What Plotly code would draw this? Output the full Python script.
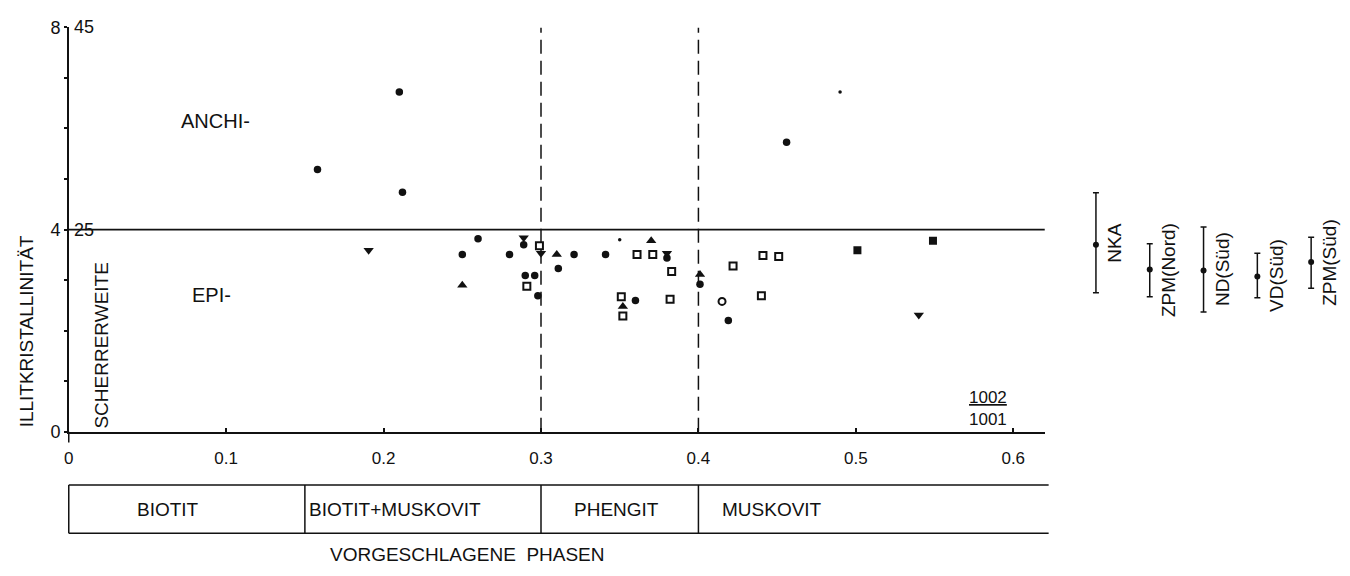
import plotly.graph_objects as go

# ---------------- data ----------------
# filled circles
dot_x = [0.210, 0.158, 0.212, 0.456, 0.260, 0.250, 0.280, 0.289, 0.321, 0.341,
         0.290, 0.296, 0.298, 0.311, 0.360, 0.380, 0.401, 0.419]
dot_y = [6.72, 5.19, 4.74, 5.73, 3.82, 3.51, 3.51, 3.70, 3.51, 3.51,
         3.09, 3.09, 2.69, 3.23, 2.60, 3.44, 2.92, 2.20]
# small dots
sdot_x = [0.490, 0.350]
sdot_y = [6.72, 3.80]
# filled triangles (down)
tdn_x = [0.1905, 0.289, 0.300, 0.380, 0.540]
tdn_y = [3.59, 3.84, 3.53, 3.53, 2.31]
# filled triangles (up)
tup_x = [0.250, 0.310, 0.352, 0.370, 0.401]
tup_y = [2.90, 3.51, 2.48, 3.78, 3.11]
# open squares
osq_x = [0.299, 0.291, 0.361, 0.351, 0.352, 0.371, 0.383, 0.382, 0.422, 0.441, 0.451, 0.440]
osq_y = [3.68, 2.88, 3.51, 2.67, 2.29, 3.51, 3.17, 2.62, 3.28, 3.49, 3.47, 2.69]
# open circle
ocir_x = [0.415]
ocir_y = [2.58]
# filled squares
fsq_x = [0.501, 0.549]
fsq_y = [3.59, 3.78]

# regional ranges (right-hand legend)
regions = ["NKA", "ZPM(Nord)", "ND(Süd)", "VD(Süd)", "ZPM(Süd)"]
reg_mean = [3.70, 3.21, 3.19, 3.07, 3.36]
reg_max = [4.73, 3.72, 4.05, 3.53, 3.85]
reg_min = [2.75, 2.67, 2.37, 2.65, 2.84]

# axis ticks
x_ticks = [0, 0.1, 0.2, 0.3, 0.4, 0.5, 0.6]
x_ticktext = ["0", "0.1", "0.2", "0.3", "0.4", "0.5", "0.6"]
y_ticks = [0, 1, 2, 3, 4, 5, 6, 7, 8]
y_ticktext = ["0", "", "", "", "4", "", "", "", "8"]

# zone boundary and phase boundaries
anchi_epi = 4
phase_bounds = [0.15, 0.3, 0.4]
phase_names = ["BIOTIT", "BIOTIT+MUSKOVIT", "PHENGIT", "MUSKOVIT"]
phase_label_x = [0.063, 0.207, 0.348, 0.414]
dashed_x = [0.3, 0.4]

# ---------------- figure ----------------
W, H = 1350, 576
FONT = "Liberation Sans, Arial, sans-serif"
BLACK = "#111111"


def px_x(p):
    return p / W


def px_y(p):
    return 1 - p / H


fig = go.Figure()


def add_sc(x, y, symbol, size, lw=0):
    fig.add_trace(go.Scatter(
        x=x, y=y, mode="markers", showlegend=False, hoverinfo="skip",
        marker=dict(symbol=symbol, size=size, color=BLACK,
                    line=dict(color=BLACK, width=lw)),
        xaxis="x", yaxis="y"))


add_sc(dot_x, dot_y, "circle", 7.5)
add_sc(sdot_x, sdot_y, "circle", 3.5)
add_sc(tdn_x, tdn_y, "triangle-down", 9)
add_sc(tup_x, tup_y, "triangle-up", 9)
add_sc(osq_x, osq_y, "square-open", 7, 2)
add_sc(ocir_x, ocir_y, "circle-open", 7, 2)
add_sc(fsq_x, fsq_y, "square", 8)

# right-hand range bars
reg_pos = [i + 0.5 for i in range(len(regions))]
fig.add_trace(go.Scatter(
    x=reg_pos, y=reg_mean, mode="markers", showlegend=False, hoverinfo="skip",
    marker=dict(symbol="circle", size=6, color=BLACK),
    error_y=dict(type="data", symmetric=False,
                 array=[mx - m for mx, m in zip(reg_max, reg_mean)],
                 arrayminus=[m - mn for m, mn in zip(reg_mean, reg_min)],
                 color=BLACK, thickness=1.5, width=3),
    xaxis="x2", yaxis="y"))

for i, name in enumerate(regions):
    fig.add_annotation(x=reg_pos[i], y=(reg_max[i] + reg_min[i]) / 2, xref="x2", yref="y",
                       text=name, showarrow=False, textangle=-90, xshift=19,
                       xanchor="center", yanchor="middle",
                       font=dict(family=FONT, size=19, color=BLACK))

x_end = 0.62
x_dom = [px_x(64), px_x(64 + x_end * 1580)]
y_dom = [px_y(437), px_y(18)]

fig.update_layout(
    width=W, height=H,
    margin=dict(l=0, r=0, t=0, b=0),
    paper_bgcolor="white", plot_bgcolor="white",
    font=dict(family=FONT, size=17, color=BLACK),
    xaxis=dict(domain=x_dom, range=[0, x_end], anchor="y",
               showgrid=False, zeroline=False, showline=True,
               linecolor=BLACK, linewidth=1.5,
               ticks="inside", ticklen=4, tickwidth=1.5, tickcolor=BLACK,
               tickvals=x_ticks, ticktext=x_ticktext, ticklabelstandoff=10,
               tickfont=dict(family=FONT, size=17, color=BLACK)),
    yaxis=dict(domain=y_dom, range=[0, 8], anchor="x",
               showgrid=False, zeroline=False, showline=True,
               linecolor=BLACK, linewidth=1.5,
               ticks="outside", ticklen=3, tickwidth=2, tickcolor=BLACK,
               tickvals=y_ticks, ticktext=y_ticktext,
               tickfont=dict(family=FONT, size=18, color=BLACK)),
    xaxis2=dict(domain=[px_x(1068), px_x(1338)], range=[0, 5], anchor="y",
                visible=False, showgrid=False, zeroline=False),
)

# horizontal anchi/epi boundary
fig.add_shape(type="line", xref="x domain", yref="y", x0=0, x1=1,
              y0=anchi_epi, y1=anchi_epi, line=dict(color=BLACK, width=1.8))
# dashed verticals
for xv in dashed_x:
    fig.add_shape(type="line", xref="x", yref="y", x0=xv, x1=xv, y0=0, y1=8,
                  line=dict(color=BLACK, width=1.5, dash="14px,7px"))
# y axis extension below the origin
fig.add_shape(type="line", xref="x domain", yref="paper", x0=0, x1=0,
              y0=px_y(448), y1=px_y(437), line=dict(color=BLACK, width=1.5))

# phase box
box_top, box_bot = px_y(492), px_y(542)
for yy in (box_top, box_bot):
    fig.add_shape(type="line", xref="x domain", yref="paper", x0=0, x1=1.004,
                  y0=yy, y1=yy, line=dict(color=BLACK, width=1.5))
fig.add_shape(type="line", xref="x domain", yref="paper", x0=0, x1=0,
              y0=box_bot, y1=box_top, line=dict(color=BLACK, width=1.5))
for xb in phase_bounds:
    fig.add_shape(type="line", xref="x", yref="paper", x0=xb, x1=xb,
                  y0=box_bot, y1=box_top, line=dict(color=BLACK, width=1.5))
for i, name in enumerate(phase_names):
    fig.add_annotation(x=phase_label_x[i], y=(box_top + box_bot) / 2, xref="x", yref="paper",
                       text=name, showarrow=False,
                       xanchor="left" if i == 3 else "center", yanchor="middle",
                       font=dict(family=FONT, size=19, color=BLACK))
fig.add_annotation(x=px_x(464), y=px_y(564), xref="paper", yref="paper",
                   text="VORGESCHLAGENE  PHASEN", showarrow=False,
                   xanchor="center", yanchor="middle",
                   font=dict(family=FONT, size=19, color=BLACK))

# secondary y-scale labels
for yv, txt in ((8, "45"), (4, "25")):
    fig.add_annotation(x=px_x(67), y=yv, xref="paper", yref="y", text=txt,
                       showarrow=False, xanchor="left", yanchor="middle",
                       font=dict(family=FONT, size=18, color=BLACK))

# zone labels
fig.add_annotation(x=0.070, y=6.15, xref="x", yref="y", text="ANCHI-",
                   showarrow=False, xanchor="left", yanchor="middle",
                   font=dict(family=FONT, size=20, color=BLACK))
fig.add_annotation(x=0.077, y=2.70, xref="x", yref="y", text="EPI-",
                   showarrow=False, xanchor="left", yanchor="middle",
                   font=dict(family=FONT, size=20, color=BLACK))

# axis titles
fig.add_annotation(x=px_x(22), y=px_y(333), xref="paper", yref="paper",
                   text="ILLITKRISTALLINITÄT", showarrow=False, textangle=-90,
                   xanchor="center", yanchor="middle",
                   font=dict(family=FONT, size=19, color=BLACK))
fig.add_annotation(x=px_x(97), y=px_y(348), xref="paper", yref="paper",
                   text="SCHERRERWEITE", showarrow=False, textangle=-90,
                   xanchor="center", yanchor="middle",
                   font=dict(family=FONT, size=19, color=BLACK))
fig.add_annotation(x=0.584, y=0.46, xref="x", yref="y",
                   text="<u>1002</u><br>1001", showarrow=False,
                   xanchor="center", yanchor="middle",
                   font=dict(family=FONT, size=17, color=BLACK))

fig.write_html("out.html")
